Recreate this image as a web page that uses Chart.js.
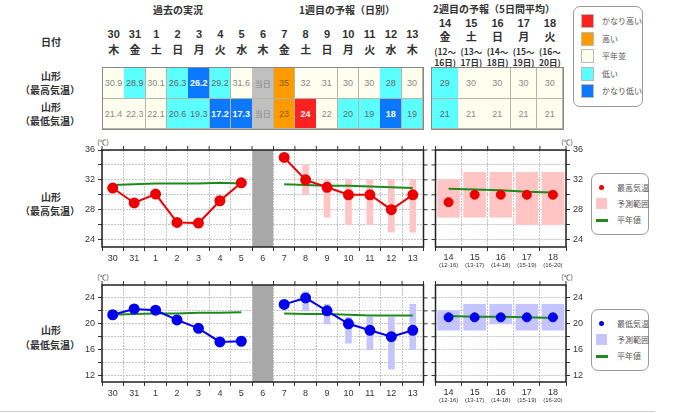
<!DOCTYPE html>
<html><head><meta charset="utf-8">
<script src="https://cdn.jsdelivr.net/npm/chart.js@4.4.0/dist/chart.umd.min.js"></script>
<style>
body{margin:0;width:680px;height:413px;background:#fff;position:relative;overflow:hidden;font-family:"Noto Sans CJK JP",sans-serif;}
.t{position:absolute;white-space:nowrap;transform:translate(-50%,-50%);line-height:1;}
.box{position:absolute;box-sizing:border-box;}
.cell{position:absolute;box-sizing:border-box;border-right:1px solid #b5b5a5;border-bottom:1px solid #b5b5a5;display:flex;align-items:center;justify-content:center;font-size:9px;font-family:"Liberation Sans",sans-serif;}
canvas{position:absolute;}
.n{background:#fffff0;color:#888;}
.l{background:#5cffff;color:#666;}
.vl{background:#0a78ff;color:#fff;font-weight:bold;}
.h{background:#ff9a00;color:#8a5a10;}
.vh{background:#ff2020;color:#fff;font-weight:bold;}
.td{background:#c0c0c0;color:#888;font-family:"Noto Sans CJK JP",sans-serif;font-size:8px;}
.lg{position:absolute;border:1px solid #999;border-radius:7px;box-sizing:border-box;background:#fff;}
.lt{position:absolute;font-size:8px;color:#555;white-space:nowrap;transform:translateY(-50%);line-height:1;}
</style></head><body>
<script>
// ---------- data ----------
const days = ['30','31','1','2','3','4','5','6','7','8','9','10','11','12','13'];
const weekdays = ['木','金','土','日','月','火','水','木','金','土','日','月','火','水','木'];
const week2Days = ['14','15','16','17','18'];
const week2Weekdays = ['金','土','日','月','火'];
const week2From = ['12','13','14','15','16'];
const week2To = ['16','17','18','19','20'];
const week2Ranges = ['(12-16)','(13-17)','(14-18)','(15-19)','(16-20)'];

const maxObs = [30.9,28.9,30.1,26.3,26.2,29.2,31.6];
const maxDaily = [35,32,31,30,30,28,30];
const maxDailyLo = [null,30,27,26,26,25,25];
const maxDailyHi = [null,34,32,32,32,32,32];
const maxNormPast = [31.3,31.4,31.5,31.5,31.5,31.6,31.5];
const maxNormDaily = [31.4,31.3,31.2,31.2,31.1,31.0,30.9];
const maxWeek2 = [29,30,30,30,30];
const maxWeek2Lo = [27,27,27,26,26];
const maxWeek2Hi = [32,33,33,33,33];
const maxWeek2Norm = [30.8,30.7,30.6,30.4,30.3];

const minObs = [21.4,22.3,22.1,20.6,19.3,17.2,17.3];
const minDaily = [23,24,22,20,19,18,19];
const minDailyLo = [null,22,20,17,16,13,16];
const minDailyHi = [null,25,23,21,21,21,23];
const minNormPast = [21.4,21.5,21.6,21.6,21.7,21.7,21.8];
const minNormDaily = [21.6,21.5,21.5,21.4,21.3,21.3,21.3];
const minWeek2 = [21,21,21,21,21];
const minWeek2Lo = [19,19,20,19,19];
const minWeek2Hi = [22,23,23,23,23];
const minWeek2Norm = [21.2,21.1,21.1,21.0,20.9];

// anomaly classes for the table (n normal, l low, vl very low, h high, vh very high)
const maxObsClass = ['n','l','n','l','vl','l','n'];
const maxDailyClass = ['h','n','n','n','n','l','n'];
const maxWeek2Class = ['l','n','n','n','n'];
const minObsClass = ['n','n','n','l','l','vl','vl'];
const minDailyClass = ['h','vh','n','l','l','vl','l'];
const minWeek2Class = ['l','n','n','n','n'];

const legendClasses = [['vh','かなり高い'],['h','高い'],['n','平年並'],['l','低い'],['vl','かなり低い']];

// ---------- helpers ----------
const B = document.body;
function txt(x,y,s,css){const d=document.createElement('div');d.className='t';d.style.left=x+'px';d.style.top=y+'px';d.textContent=s;if(css)d.style.cssText+=css;B.appendChild(d);return d;}
function el(cls,x,y,w,h,css){const d=document.createElement('div');d.className=cls;Object.assign(d.style,{left:x+'px',top:y+'px',width:w+'px',height:h+'px'});if(css)d.style.cssText+=css;B.appendChild(d);return d;}

const HB = 'font-weight:bold;font-size:10px;color:#333;';
// headings
txt(178,10,'過去の実況',HB);
txt(347,10,'1週目の予報（日別）',HB);
txt(494,9,'2週目の予報（5日間平均）',HB);
txt(51,42,'日付',HB);
txt(51,76,'山形',HB); txt(50,90,'（最高気温）',HB);
txt(51,107,'山形',HB); txt(50,121,'（最低気温）',HB);

// table 1
const T1X=103, T1W=21.33, TY0=68, TH0=31, TH1=30;
days.forEach((d,i)=>{const cx=T1X+T1W*(i+0.5);
  txt(cx,34,d,'font-weight:bold;font-size:11px;color:#333;font-family:"Liberation Sans",sans-serif;');
  txt(cx,49,weekdays[i],'font-weight:bold;font-size:11px;color:#333;');});
const maxRow = [...maxObs.map(v=>v.toFixed(1)),'当日',...maxDaily.map(String)];
const maxCls = [...maxObsClass,'td',...maxDailyClass];
const minRow = [...minObs.map(v=>v.toFixed(1)),'当日',...minDaily.map(String)];
const minCls = [...minObsClass,'td',...minDailyClass];
el('box',T1X-1,TY0-1,T1W*days.length+2,TH0+TH1+2,'border:1px solid #888;');
maxRow.forEach((v,i)=>{el('cell '+maxCls[i],T1X+T1W*i,TY0,T1W+0.5,TH0).textContent=v;});
minRow.forEach((v,i)=>{el('cell '+minCls[i],T1X+T1W*i,TY0+TH0,T1W+0.5,TH1).textContent=v;});

// table 2
const T2X=432, T2W=26.2;
week2Days.forEach((d,i)=>{const cx=T2X+T2W*(i+0.5);
  txt(cx,23,d,'font-weight:bold;font-size:11px;color:#333;font-family:"Liberation Sans",sans-serif;');
  txt(cx,36,week2Weekdays[i],'font-weight:bold;font-size:11px;color:#333;');
  txt(cx,51,'('+week2From[i]+'～','font-weight:bold;font-size:8.5px;color:#333;');
  txt(cx,62,week2To[i]+'日)','font-weight:bold;font-size:8.5px;color:#333;');});
el('box',T2X-1,TY0-1,T2W*5+2,TH0+TH1+2,'border:1px solid #888;');
maxWeek2.forEach((v,i)=>{el('cell '+maxWeek2Class[i],T2X+T2W*i,TY0,T2W+0.5,TH0).textContent=v;});
minWeek2.forEach((v,i)=>{el('cell '+minWeek2Class[i],T2X+T2W*i,TY0+TH0,T2W+0.5,TH1).textContent=v;});

// table legend
el('lg',573,6,70,101);
legendClasses.forEach(([c,l],i)=>{const y=21+i*17.6;
  el('box '+c,581,y-7,13,14,'border:0.5px solid #bbb;');
  const d=document.createElement('div');d.className='lt';d.style.left='602px';d.style.top=y+'px';d.textContent=l;B.appendChild(d);});

// chart side labels
txt(51,197,'山形',HB); txt(50,211,'（最高気温）',HB);
txt(51,330,'山形',HB); txt(50,345,'（最低気温）',HB);
const UC='font-size:7px;color:#333;';
txt(103,142,'(℃)',UC); txt(567,142,'(℃)',UC);
txt(103,277,'(℃)',UC); txt(567,277,'(℃)',UC);

// chart legends
function chartLegend(y,col,rcol,label){
  el('lg',591,y,58,62);
  el('box',599,y+12,5,5,'border-radius:50%;background:'+col+';');
  const a=document.createElement('div');a.className='lt';a.style.left='617px';a.style.top=(y+15)+'px';a.textContent=label;B.appendChild(a);
  el('box',596,y+25,11,11,'background:'+rcol+';');
  const b=document.createElement('div');b.className='lt';b.style.left='617px';b.style.top=(y+31)+'px';b.textContent='予測範囲';B.appendChild(b);
  el('box',596,y+46,12,3,'background:#1e8a1e;');
  const c=document.createElement('div');c.className='lt';c.style.left='617px';c.style.top=(y+47)+'px';c.textContent='平年値';B.appendChild(c);
}
chartLegend(173,'#ee0000','#ffc4c4','最高気温');
chartLegend(309,'#0000ee','#c4c4ff','最低気温');

// bottom separator
el('box',0,411,655,1,'background:#ccc;');

// ---------- charts ----------
const GREEN='#1e8a1e';
const FONT={size:9,family:'"Liberation Sans",sans-serif'};
// frame + small outer ticks on the top edge and on the side opposite the value axis
const framePlugin={id:'frame',afterDraw(c){
  const a=c.chartArea,x=c.ctx,xs=c.scales.x,ys=c.scales.y;
  x.save();x.strokeStyle='#333';x.lineWidth=1;x.beginPath();
  const n=xs.getLabels().length;
  for(let i=0;i<=n;i++){const px=xs.getPixelForValue(i-0.5);x.moveTo(px,a.top);x.lineTo(px,a.top-4);}
  const ox = ys.position==='left' ? a.right : a.left;
  const dir = ys.position==='left' ? 1 : -1;
  ys.ticks.forEach(t=>{const py=ys.getPixelForValue(t.value);x.moveTo(ox,py);x.lineTo(ox+dir*4,py);});
  x.stroke();
  x.strokeStyle='#222';x.lineWidth=1.5;x.strokeRect(a.left,a.top,a.right-a.left,a.bottom-a.top);x.restore();}};
function mkCanvas(x,y,w,h){const c=document.createElement('canvas');c.width=w;c.height=h;c.style.left=x+'px';c.style.top=y+'px';c.style.width=w+'px';c.style.height=h+'px';B.appendChild(c);return c;}
function yScale(ymin,ymax,tickVals,labelEvery,pos,width){
  return {position:pos,min:ymin,max:ymax,
    afterBuildTicks:s=>{s.ticks=tickVals.map(v=>({value:v}));},
    ticks:{font:FONT,color:'#333',padding:3,callback:v=>(v%labelEvery===0?String(v):'')},
    grid:{color:'#c4c4c4',tickLength:4,tickColor:'#333'},
    border:{display:false,dash:[2,1]},
    afterFit:s=>{s.width=width;}};
}
const common={responsive:false,animation:false,events:[],plugins:{legend:{display:false},tooltip:{enabled:false}}};

function leftChart(x,y,h,obs,daily,lo,hi,normPast,normDaily,ymin,ymax,tickVals,col,rcol){
  const cv=mkCanvas(x,y,370,h);
  const ti=obs.length;
  const vals=[...obs,null,...daily];
  const norm=[...normPast,null,...normDaily];
  const rng=[...obs.map(()=>null),null,...lo.map((l,i)=>l==null?null:[l,hi[i]])];
  const band=days.map((d,i)=>i===ti?[ymin,ymax]:null);
  new Chart(cv,{type:'bar',data:{labels:days,datasets:[
    {type:'line',data:vals,borderColor:col,backgroundColor:col,pointBackgroundColor:col,pointBorderColor:col,pointRadius:4.5,borderWidth:2,spanGaps:false,order:0},
    {type:'line',data:norm,borderColor:GREEN,pointRadius:0,borderWidth:2,spanGaps:false,order:1},
    {data:rng,backgroundColor:rcol,barThickness:6,grouped:false,order:2},
    {data:band,backgroundColor:'#a8a8a8',barThickness:20,grouped:false,order:3}
  ]},options:{...common,layout:{padding:{top:15,right:6,left:0,bottom:0}},scales:{
    x:{offset:true,grid:{offset:true,color:'#c4c4c4',tickLength:4,tickColor:'#333'},border:{display:false,dash:[2,1]},
       ticks:{font:FONT,color:'#333',padding:2,maxRotation:0,autoSkip:false},afterFit:s=>{s.height=28;}},
    y:yScale(ymin,ymax,tickVals,4,'left',42)}},plugins:[framePlugin]});
}
function rightChart(x,y,h,vals,lo,hi,norm,ymin,ymax,tickVals,col,rcol){
  const cv=mkCanvas(x,y,160,h);
  new Chart(cv,{type:'bar',data:{labels:week2Days,datasets:[
    {type:'line',data:vals,showLine:false,pointBackgroundColor:col,pointBorderColor:col,pointRadius:4.5,order:0},
    {type:'line',data:norm,borderColor:GREEN,pointRadius:0,borderWidth:2,order:1},
    {data:lo.map((l,i)=>[l,hi[i]]),backgroundColor:rcol,barThickness:22,grouped:false,order:2}
  ]},options:{...common,layout:{padding:{top:15,right:0,left:4,bottom:0}},scales:{
    x:{offset:true,grid:{offset:true,color:'#c4c4c4',tickLength:4,tickColor:'#333'},border:{display:false,dash:[2,1]},
       ticks:{font:FONT,color:'#333',padding:1,maxRotation:0,autoSkip:false},afterFit:s=>{s.height=15;}},
    x2:{type:'category',labels:week2Ranges,position:'bottom',offset:true,grid:{display:false,drawTicks:false,tickLength:0},border:{display:false},
       ticks:{font:{size:6,family:'"Liberation Sans",sans-serif'},color:'#333',padding:0,maxRotation:0,autoSkip:false},afterFit:s=>{s.height=13;}},
    y:yScale(ymin,ymax,tickVals,4,'right',24)}},plugins:[framePlugin]});
}

leftChart(60,135,140,maxObs,maxDaily,maxDailyLo,maxDailyHi,maxNormPast,maxNormDaily,23,36,[24,26,28,30,32,34,36],'#ee0000','#ffc4c4');
rightChart(430,135,140,maxWeek2,maxWeek2Lo,maxWeek2Hi,maxWeek2Norm,23,36,[24,26,28,30,32,34,36],'#ee0000','#ffc4c4');
leftChart(60,270,140,minObs,minDaily,minDailyLo,minDailyHi,minNormPast,minNormDaily,11,26,[12,14,16,18,20,22,24],'#0000ee','#c4c4ff');
rightChart(430,270,140,minWeek2,minWeek2Lo,minWeek2Hi,minWeek2Norm,11,26,[12,14,16,18,20,22,24],'#0000ee','#c4c4ff');
</script>
</body></html>
